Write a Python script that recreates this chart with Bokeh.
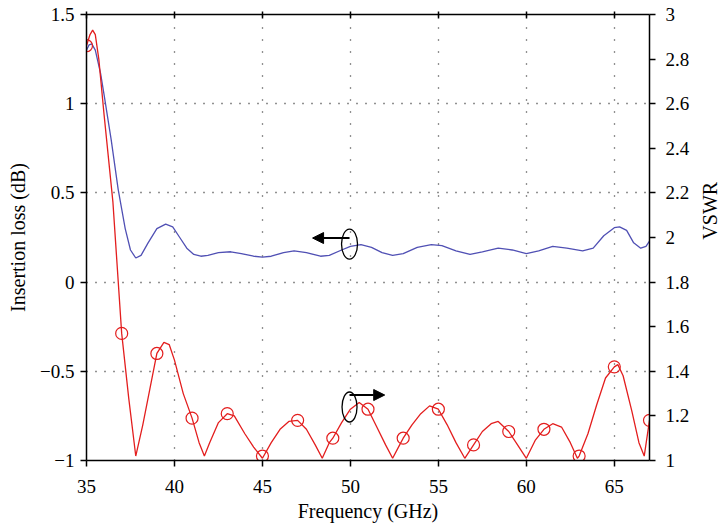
import math
from bokeh.plotting import figure
from bokeh.layouts import row
from bokeh.models import Range1d, LinearAxis, FixedTicker, Arrow, NormalHead, Label
from bokeh.embed import file_html
from bokeh.resources import INLINE

# ---------------- data ----------------
freq_il = [35.0, 35.15, 35.3, 35.5, 35.8, 36.0, 36.4, 36.8, 37.2, 37.5, 37.8, 38.1, 38.5,
           39.0, 39.5, 39.9, 40.3, 40.7, 41.1, 41.5, 41.9, 42.5, 43.2, 43.8, 44.5, 45.0,
           45.5, 46.2, 46.8, 47.5, 48.3, 48.8, 49.5, 50.0, 50.6, 51.2, 51.8, 52.4, 53.0,
           53.8, 54.6, 55.2, 56.0, 56.8, 57.5, 58.4, 59.2, 60.0, 60.7, 61.5, 62.3, 63.2,
           63.8, 64.4, 65.0, 65.3, 65.7, 66.1, 66.5, 66.8, 67.0]
il = [1.30, 1.33, 1.335, 1.30, 1.17, 1.05, 0.80, 0.52, 0.30, 0.18, 0.135, 0.15, 0.22,
      0.30, 0.325, 0.31, 0.25, 0.19, 0.155, 0.145, 0.15, 0.165, 0.17, 0.16, 0.145, 0.14,
      0.145, 0.165, 0.175, 0.165, 0.145, 0.15, 0.18, 0.20, 0.21, 0.195, 0.165, 0.15, 0.16,
      0.195, 0.21, 0.205, 0.175, 0.155, 0.17, 0.19, 0.18, 0.16, 0.175, 0.20, 0.19, 0.175,
      0.19, 0.26, 0.305, 0.31, 0.29, 0.22, 0.19, 0.20, 0.23]

freq_vswr = [35.0, 35.2, 35.35, 35.5, 35.7, 36.0, 36.5, 37.0, 37.4, 37.8, 38.2, 38.6, 39.0,
             39.4, 39.7, 40.0, 40.5, 41.0, 41.4, 41.7, 42.0, 42.5, 43.0, 43.4, 44.0, 44.5,
             45.0, 45.5, 46.0, 46.5, 47.0, 47.5, 48.0, 48.4, 48.8, 49.0, 49.5, 50.0, 50.5,
             51.0, 51.5, 52.0, 52.4, 52.8, 53.0, 53.5, 54.0, 54.5, 55.0, 55.5, 56.0, 56.5,
             57.0, 57.5, 58.0, 58.4, 59.0, 59.5, 60.0, 60.5, 61.0, 61.5, 62.0, 62.5, 62.9,
             63.0, 63.5, 64.0, 64.5, 65.0, 65.2, 65.5, 66.0, 66.4, 66.7, 67.0]
vswr = [2.86, 2.91, 2.93, 2.91, 2.80, 2.55, 2.16, 1.57, 1.28, 1.02, 1.16, 1.32, 1.48,
        1.53, 1.52, 1.45, 1.30, 1.19, 1.08, 1.02, 1.08, 1.17, 1.21, 1.20, 1.12, 1.06,
        1.01, 1.08, 1.14, 1.175, 1.18, 1.14, 1.07, 1.01, 1.08, 1.10, 1.17, 1.23, 1.26,
        1.23, 1.15, 1.07, 1.01, 1.07, 1.10, 1.16, 1.21, 1.245, 1.23, 1.16, 1.08, 1.01,
        1.07, 1.13, 1.165, 1.175, 1.13, 1.07, 1.01, 1.09, 1.14, 1.165, 1.15, 1.08, 1.01,
        1.02, 1.12, 1.25, 1.37, 1.42, 1.43, 1.38, 1.22, 1.08, 1.02, 1.18]

marker_freq = [35, 37, 39, 41, 43, 45, 47, 49, 51, 53, 55, 57, 59, 61, 63, 65, 67]
marker_vswr = [2.86, 1.57, 1.48, 1.19, 1.21, 1.02, 1.18, 1.10, 1.23, 1.10, 1.23, 1.07,
               1.13, 1.14, 1.02, 1.42, 1.18]

x_ticks = [35, 40, 45, 50, 55, 60, 65]
il_ticks = [-1, -0.5, 0, 0.5, 1, 1.5]
il_tick_labels = ["\u22121", "\u22120.5", "0", "0.5", "1", "1.5"]
vswr_ticks = [1, 1.2, 1.4, 1.6, 1.8, 2, 2.2, 2.4, 2.6, 2.8, 3]
vswr_tick_labels = ["1", "1.2", "1.4", "1.6", "1.8", "2", "2.2", "2.4", "2.6", "2.8", "3"]

# annotation anchors (ellipse + arrow that mark which axis each curve uses)
il_mark = (49.95, 0.213)
il_arrow = (49.95, 0.247, 47.85)
vswr_mark = (49.95, -0.70)
vswr_arrow = (49.95, -0.633, 51.95)

# ---------------- styles ----------------
FONT = "Liberation Serif"
BLUE = "#5050b4"
RED = "#e31e1e"

p = figure(width=699, height=530, x_range=Range1d(35, 67), y_range=Range1d(-1, 1.5),
           output_backend="svg", toolbar_location=None,
           min_border_left=86, min_border_right=50, min_border_top=14, min_border_bottom=70)
p.extra_y_ranges = {"vswr": Range1d(1, 3)}
p.outline_line_color = None
p.background_fill_color = "white"
p.border_fill_color = "white"

# grid
p.xgrid.ticker = FixedTicker(ticks=x_ticks)
p.ygrid.ticker = FixedTicker(ticks=il_ticks)
p.xgrid.grid_line_color = "#222222"
p.ygrid.grid_line_color = "#222222"
p.xgrid.grid_line_dash = "1 11"
p.ygrid.grid_line_dash = "1 8"
p.xgrid.grid_line_width = 1.3
p.ygrid.grid_line_width = 1.3


def style_axis(ax, tick_in=0, tick_out=6):
    ax.axis_line_color = "black"
    ax.axis_line_width = 1.5
    ax.major_tick_line_color = "black"
    ax.major_tick_line_width = 1.5
    ax.major_tick_in = tick_in
    ax.major_tick_out = tick_out
    ax.minor_tick_line_color = None
    ax.major_label_text_font = FONT
    ax.major_label_text_font_size = "19px"
    ax.major_label_text_color = "black"
    ax.axis_label_text_font = FONT
    ax.axis_label_text_font_size = "20px"
    ax.axis_label_text_font_style = "normal"
    ax.axis_label_text_color = "black"


xa = p.xaxis[0]
xa.ticker = FixedTicker(ticks=x_ticks)
xa.axis_label = "Frequency (GHz)"
style_axis(xa)
xa.major_label_standoff = 13
xa.axis_label_standoff = 4

ya = p.yaxis[0]
ya.ticker = FixedTicker(ticks=il_ticks)
ya.major_label_overrides = dict(zip(il_ticks, il_tick_labels))
ya.axis_label = "Insertion loss (dB)"
style_axis(ya)
ya.major_label_standoff = 6
ya.axis_label_standoff = 8

ra = LinearAxis(y_range_name="vswr", ticker=FixedTicker(ticks=vswr_ticks))
ra.major_label_overrides = dict(zip(vswr_ticks, vswr_tick_labels))
style_axis(ra)
ra.major_label_standoff = 10
p.add_layout(ra, "right")

ta = LinearAxis(ticker=FixedTicker(ticks=x_ticks))
style_axis(ta, tick_in=4, tick_out=3)
ta.major_label_text_font_size = "1px"
ta.major_label_text_color = None
ta.major_label_standoff = 0
p.add_layout(ta, "above")

# curves
p.line(freq_il, il, line_color=BLUE, line_width=1.3)
p.line(freq_vswr, vswr, line_color=RED, line_width=1.3, y_range_name="vswr")
p.scatter(marker_freq, marker_vswr, marker="circle", size=12, fill_color=None,
          line_color=RED, line_width=1.2, y_range_name="vswr")

# axis indicators
p.ellipse(x=[il_mark[0]], y=[il_mark[1]], width=16, height=30, width_units="screen",
          height_units="screen", fill_color=None, line_color="black", line_width=1.3)
p.ellipse(x=[vswr_mark[0]], y=[vswr_mark[1]], width=15, height=30, width_units="screen",
          height_units="screen", fill_color=None, line_color="black", line_width=1.3)
p.add_layout(Arrow(end=NormalHead(size=11, fill_color="black", line_color="black"),
                   x_start=il_arrow[0], y_start=il_arrow[1], x_end=il_arrow[2], y_end=il_arrow[1],
                   line_color="black", line_width=2))
p.add_layout(Arrow(end=NormalHead(size=11, fill_color="black", line_color="black"),
                   x_start=vswr_arrow[0], y_start=vswr_arrow[1], x_end=vswr_arrow[2], y_end=vswr_arrow[1],
                   line_color="black", line_width=2))

# right-hand axis title (reads bottom-to-top), drawn in a narrow strip beside the plot
strip = figure(width=24, height=530, x_range=Range1d(0, 1), y_range=Range1d(0, 1),
               output_backend="svg", toolbar_location=None, min_border=0,
               x_axis_type=None, y_axis_type=None)
strip.outline_line_color = None
strip.background_fill_color = "white"
strip.border_fill_color = "white"
strip.add_layout(Label(x=0.45, y=0.56, text="VSWR", angle=math.pi / 2, text_align="center",
                       text_baseline="middle", text_font=FONT, text_font_size="20px",
                       text_color="black"))

layout = row(p, strip)
open("out.html", "w").write(file_html(layout, INLINE))
